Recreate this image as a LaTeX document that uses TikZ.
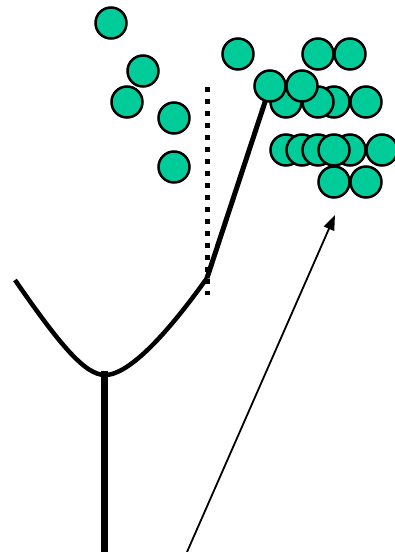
\documentclass[tikz,border=0pt]{standalone}
\usetikzlibrary{arrows.meta}
\definecolor{ballgreen}{RGB}{0,204,153}
\begin{document}
\begin{tikzpicture}[x=1pt,y=-1pt,
  ball/.style={circle,draw=black,fill=ballgreen,line width=2.5pt,minimum size=31pt,inner sep=0pt},
  thick line/.style={line width=5pt},
  dotline/.style={line width=5pt,dash pattern=on 5pt off 7pt},
  arrowline/.style={line width=1.8pt,-{Triangle[length=15pt,width=11pt]}}]
\useasboundingbox (0,0) rectangle (394,552);
% coordinates
\coordinate (left) at (15,280);
\coordinate (vertex) at (105,375);
\coordinate (joint) at (207,278);
\coordinate (top) at (266,99);
\coordinate (stemtop) at (104,371);
\coordinate (stembot) at (104,552);
\coordinate (dottop) at (207,87);
\coordinate (dotbot) at (207,295);
\coordinate (arrowstart) at (187,552);
\coordinate (arrowend) at (335,215);
% lines
\draw[dotline] (dottop) -- (dotbot);
\draw[line width=4.5pt] (left) .. controls (60,345) and (85,375) .. (vertex)
   .. controls (130,375) and (170,330) .. (joint);
\draw[thick line] (joint) -- (top);
\draw[line width=7pt] (stemtop) -- (stembot);
\draw[arrowline] (arrowstart) -- (arrowend);
% balls, left group
\node[ball] (a1) at (111,23) {};
\node[ball] (a2) at (143,71) {};
\node[ball] (a3) at (127,102) {};
\node[ball] (a4) at (174,118) {};
\node[ball] (a5) at (174,167) {};
% balls, right group
\node[ball] (b1) at (238,54) {};
\node[ball] (b2) at (318,54) {};
\node[ball] (b3) at (350,54) {};
\node[ball] (c1) at (286,102) {};
\node[ball] (c2) at (334,102) {};
\node[ball] (c3) at (318,102) {};
\node[ball] (c4) at (366,102) {};
\node[ball] (d1) at (270,86) {};
\node[ball] (d2) at (302,86) {};
\node[ball] (e1) at (286,150) {};
\node[ball] (e2) at (302,150) {};
\node[ball] (e3) at (318,150) {};
\node[ball] (e4) at (350,150) {};
\node[ball] (e5) at (334,150) {};
\node[ball] (e6) at (382,150) {};
\node[ball] (f1) at (334,182) {};
\node[ball] (f2) at (366,182) {};
\end{tikzpicture}
\end{document}
